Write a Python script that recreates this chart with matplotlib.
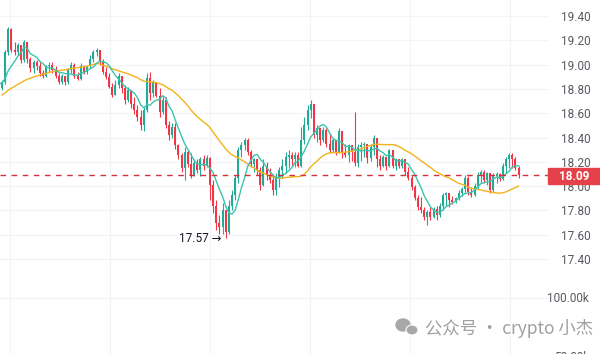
import numpy as np
import pandas as pd
import matplotlib
matplotlib.use("Agg")
import matplotlib.pyplot as plt
from matplotlib.patches import Rectangle, Ellipse

# ---- data (prices) ----
# closes before the visible window, only used so the moving averages start right
early_close = [18.62, 18.60, 18.64, 18.66, 18.63, 18.67, 18.70, 18.68, 18.72, 18.71,
               18.74, 18.70, 18.73, 18.76, 18.74, 18.78, 18.75, 18.79, 18.77, 18.80,
               18.78, 18.82, 18.80, 18.84, 18.83, 18.86, 18.84, 18.87, 18.85]
first_open = 18.81

close = [18.86, 19.10, 19.29, 19.12, 19.10, 19.16, 19.04, 19.19, 19.05, 18.97,
         19.02, 18.99, 18.93, 18.91, 18.99, 19.00, 18.96, 18.91, 18.86, 18.91,
         18.86, 18.96, 19.00, 18.91, 18.88, 18.99, 18.94, 18.99, 19.05, 19.10,
         19.12, 19.02, 18.94, 18.90, 18.82, 18.75, 18.83, 18.91, 18.81, 18.71,
         18.79, 18.68, 18.63, 18.57, 18.50, 18.63, 18.89, 18.77, 18.86, 18.74,
         18.61, 18.71, 18.50, 18.42, 18.49, 18.34, 18.26, 18.15, 18.28, 18.18,
         18.09, 18.19, 18.13, 18.22, 18.17, 18.23, 18.01, 17.84, 17.70, 17.66,
         17.80, 17.62, 17.84, 17.93, 18.07, 18.30, 18.34, 18.38, 18.28, 18.18,
         18.22, 18.13, 18.01, 18.17, 18.09, 18.05, 17.97, 18.07, 18.13, 18.17,
         18.24, 18.26, 18.22, 18.26, 18.17, 18.38, 18.50, 18.63, 18.68, 18.42,
         18.48, 18.38, 18.46, 18.35, 18.30, 18.38, 18.28, 18.45, 18.28, 18.26,
         18.34, 18.28, 18.19, 18.32, 18.34, 18.35, 18.23, 18.32, 18.40, 18.22,
         18.17, 18.24, 18.17, 18.30, 18.17, 18.22, 18.17, 18.22, 18.12, 18.07,
         17.99, 17.90, 17.83, 17.80, 17.75, 17.79, 17.75, 17.81, 17.76, 17.84,
         17.93, 17.94, 17.89, 17.87, 17.90, 17.94, 17.98, 18.07, 17.95, 17.93,
         18.00, 18.09, 18.12, 18.05, 18.11, 17.97, 18.08, 18.10, 18.06, 18.17,
         18.22, 18.26, 18.22, 18.15, 18.09]

high = [18.87, 19.12, 19.31, 19.30, 19.19, 19.18, 19.16, 19.20, 19.19, 19.06,
        19.04, 19.04, 19.02, 18.96, 19.00, 19.02, 19.02, 18.99, 18.93, 18.92,
        18.91, 18.97, 19.02, 19.01, 18.94, 19.01, 19.00, 19.00, 19.08, 19.12,
        19.14, 19.12, 19.05, 18.98, 18.93, 18.85, 18.87, 18.93, 18.91, 18.83,
        18.82, 18.79, 18.73, 18.67, 18.63, 18.65, 18.93, 18.94, 18.87, 18.86,
        18.81, 18.73, 18.73, 18.54, 18.52, 18.52, 18.35, 18.27, 18.32, 18.30,
        18.27, 18.22, 18.22, 18.24, 18.26, 18.26, 18.24, 18.05, 17.89, 17.76,
        17.86, 17.80, 17.89, 17.97, 18.09, 18.32, 18.36, 18.40, 18.40, 18.30,
        18.23, 18.22, 18.16, 18.22, 18.20, 18.15, 18.09, 18.11, 18.16, 18.22,
        18.28, 18.30, 18.28, 18.28, 18.28, 18.49, 18.57, 18.67, 18.71, 18.68,
        18.50, 18.48, 18.49, 18.48, 18.44, 18.40, 18.38, 18.48, 18.45, 18.35,
        18.35, 18.34, 18.61, 18.35, 18.36, 18.36, 18.32, 18.35, 18.42, 18.40,
        18.26, 18.26, 18.24, 18.31, 18.30, 18.23, 18.22, 18.23, 18.22, 18.16,
        18.09, 18.01, 17.93, 17.91, 17.83, 17.80, 17.83, 17.83, 17.84, 17.86,
        17.94, 17.95, 17.94, 17.92, 17.91, 17.97, 17.99, 18.09, 18.08, 17.99,
        18.03, 18.12, 18.13, 18.13, 18.12, 18.11, 18.11, 18.12, 18.11, 18.19,
        18.24, 18.27, 18.27, 18.24, 18.17]

low = [18.79, 18.84, 19.08, 19.10, 19.08, 19.08, 19.01, 19.02, 19.01, 18.94,
       18.93, 18.96, 18.91, 18.89, 18.90, 18.94, 18.93, 18.89, 18.84, 18.84,
       18.83, 18.84, 18.93, 18.89, 18.87, 18.87, 18.92, 18.92, 18.97, 19.02,
       19.07, 19.00, 18.92, 18.88, 18.81, 18.73, 18.75, 18.81, 18.77, 18.68,
       18.69, 18.64, 18.59, 18.54, 18.46, 18.45, 18.61, 18.71, 18.73, 18.73,
       18.57, 18.59, 18.48, 18.38, 18.40, 18.31, 18.22, 18.12, 18.05, 18.16,
       18.07, 18.08, 18.11, 18.08, 18.13, 18.16, 17.89, 17.78, 17.64, 17.61,
       17.61, 17.57, 17.61, 17.80, 17.89, 18.03, 18.24, 18.30, 18.26, 18.16,
       18.12, 18.09, 17.97, 18.00, 18.05, 18.03, 17.93, 17.93, 17.99, 18.07,
       18.11, 18.15, 18.17, 18.16, 18.16, 18.16, 18.35, 18.46, 18.56, 18.40,
       18.36, 18.34, 18.36, 18.32, 18.27, 18.28, 18.26, 18.27, 18.23, 18.24,
       18.20, 18.21, 18.17, 18.16, 18.21, 18.24, 18.19, 18.21, 18.26, 18.16,
       18.13, 18.16, 18.13, 18.16, 18.15, 18.13, 18.15, 18.15, 18.09, 18.05,
       17.97, 17.89, 17.80, 17.78, 17.72, 17.68, 17.72, 17.74, 17.72, 17.75,
       17.80, 17.84, 17.83, 17.85, 17.86, 17.89, 17.92, 17.95, 17.93, 17.91,
       17.92, 17.98, 18.03, 18.03, 18.01, 17.94, 17.95, 18.03, 18.04, 18.05,
       18.11, 18.15, 18.15, 18.13, 18.07]

last_price = 18.09
low_price = 17.57
price_ticks = [17.40, 17.60, 17.80, 18.00, 18.20, 18.40, 18.60, 18.80, 19.00, 19.20, 19.40]
vol_level = 17.08   # where the 100.00k volume gridline sits

# ---- derived series ----
open_ = [first_open] + close[:-1]
idx = np.arange(len(close))
all_close = pd.Series(early_close + close)
all_idx = np.arange(-len(early_close), len(close))
ma_fast = all_close.rolling(7).mean()
ma_slow = all_close.rolling(30).mean()

GREEN = "#22ab94"
RED = "#f23645"

fig = plt.figure(figsize=(6.0, 3.54), dpi=100)
ax = fig.add_axes([0, 0, 549 / 600, 1])

ax.set_xlim(-0.64, 173.65)
ax.set_ylim(16.619, 19.532)

# grid
for t in price_ticks + [vol_level]:
    ax.axhline(t, color="#f0f3f8", lw=0.8, zorder=0)
for gx in np.arange(2.5, 170, 31.75):
    ax.axvline(gx, color="#f0f3f8", lw=0.8, zorder=0)

# candles
up = np.array(close) >= np.array(open_)
cols = np.where(up, GREEN, RED)
ax.vlines(idx, low, high, colors=cols, lw=0.8, zorder=2)
bottoms = np.minimum(open_, close)
heights = np.maximum(np.abs(np.array(close) - np.array(open_)), 0.004)
ax.bar(idx, heights, bottom=bottoms, width=0.62, color=cols, lw=0, zorder=3)

# moving averages
ax.plot(all_idx, ma_slow, color="#f2b31b", lw=1.0, zorder=4)
ax.plot(all_idx, ma_fast, color="#3cc4ad", lw=1.0, zorder=4)

# last price line
ax.axhline(last_price, color="#d0313a", lw=1.0, ls=(0, (4, 4)), zorder=5)

# low marker
low_i = int(np.argmin(low))
ax.annotate(f"{low_price:.2f} \u2192", xy=(low_i, low_price), xytext=(-3, 0),
            textcoords="offset points", ha="right", va="center",
            fontsize=8.5, color="#131722", family=["Roboto", "DejaVu Sans"])

# right price scale
ax.yaxis.tick_right()
ax.set_yticks(price_ticks)
ax.set_yticklabels([f"{t:.2f}" for t in price_ticks])
ax.tick_params(axis="y", length=0, pad=9, labelsize=8.5, labelcolor="#555a60")
for lab in ax.get_yticklabels():
    lab.set_family("Roboto")
ax.set_xticks([])
for s in ax.spines.values():
    s.set_visible(False)

fig.text(589 / 600, 1 - 298 / 354, "100.00k", ha="right", va="center",
         fontsize=8.5, color="#555a60", family="Roboto")
fig.text(589 / 600, 1 - 358 / 354, "50.00k", ha="right", va="center",
         fontsize=8.5, color="#555a60", family="Roboto")

# last price badge
fig.patches.append(Rectangle((548 / 600, 1 - 184 / 354), 52 / 600, 16 / 354,
                             transform=fig.transFigure, color="#e5414b", zorder=10))
fig.text(574 / 600, 1 - 176 / 354, f"{last_price:.2f}", ha="center", va="center",
         fontsize=8.5, color="white", weight="bold", family="Roboto", zorder=11)

# watermark
fig.patches.append(Ellipse((403 / 600, 1 - 325 / 354), 14 / 600, 12 / 354,
                           transform=fig.transFigure, color="#a8a8a8", zorder=10))
fig.patches.append(Ellipse((412 / 600, 1 - 330 / 354), 12 / 600, 10 / 354,
                           transform=fig.transFigure, color="#a8a8a8", zorder=11,
                           ec="white", lw=0.8))
fig.text(425 / 600, 1 - 328 / 354, "公众号 · crypto 小杰", ha="left", va="center",
         fontsize=12.5, color="#a0a0a0", family=["Noto Sans CJK SC", "DejaVu Sans"],
         zorder=12)

fig.savefig("out.png", dpi=100, facecolor="white")
